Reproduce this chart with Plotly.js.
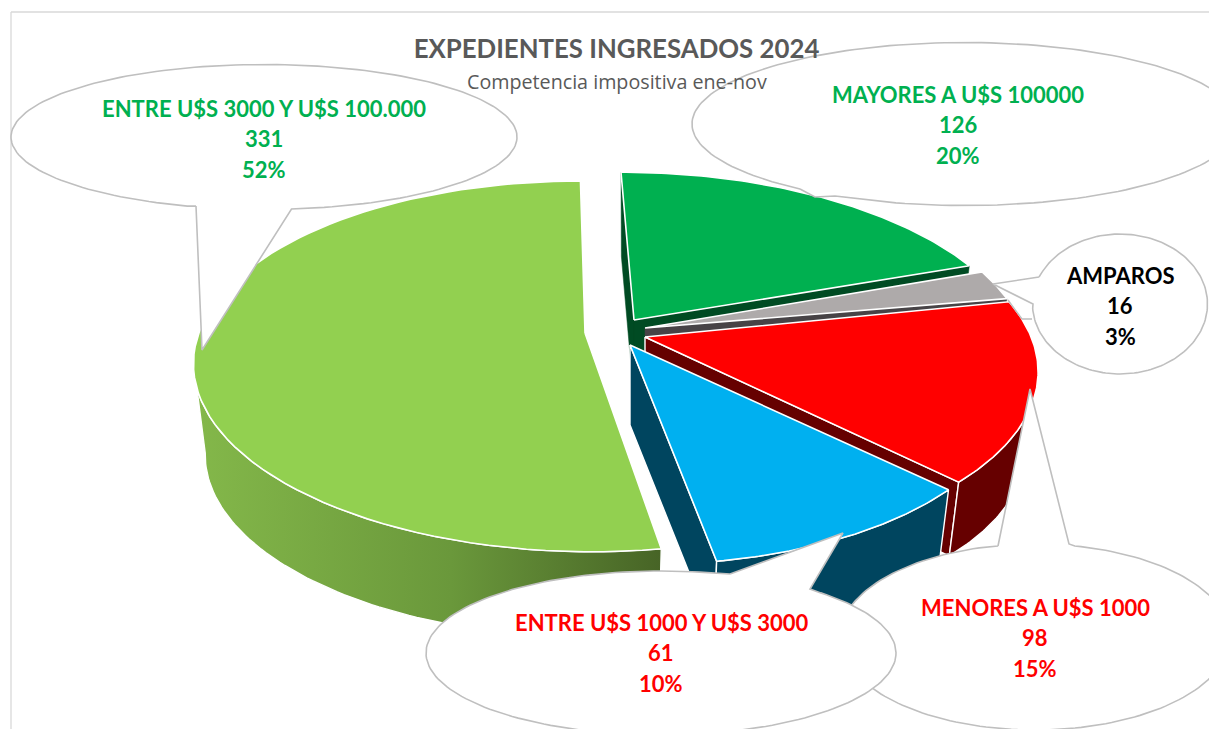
<!DOCTYPE html>
<html><head><meta charset="utf-8">
<script src="https://cdn.plot.ly/plotly-3.0.1.min.js"></script>
<style>html,body{margin:0;padding:0;background:#fff}#c{width:1209px;height:729px}</style>
</head><body><div id="c"></div>
<script>
// ---- chart data (clockwise from 12 o'clock) ----
var categories = ['MAYORES A U$S 100000','AMPAROS','MENORES A U$S 1000','ENTRE U$S 1000 Y U$S 3000','ENTRE U$S 3000 Y U$S 100.000'];
var values = [126,16,98,61,331];
var percents = ['20%','3%','15%','10%','52%'];
var titleText = 'EXPEDIENTES INGRESADOS 2024';
var subtitleText = 'Competencia impositiva ene-nov';
var topColors = ['#00B050','#AEAAAA','#FF0000','#00B0F0','#92D050'];
var sideColors = ['#004B23','#474346','#660000','#00455F','#7FB245'];
var labelColors = ['#00B050','#000000','#FF0000','#FF0000','#00B050'];

// ---- fake-3D view of the pie (pixel axes, perspective projection) ----
var apexX = [634,645,645,630,585], apexY = [320,328,337,345,333];
var skew = [0.088,0.03,0.05,0.09,0.03], sxs = [0.975,0.97,0.99,0.97,0.99], sys = [0.96,1,1,1.02,1], depth = [80,80,78,80,92];
var persp = [0.165,0.165,0.165,0.165,0.18];
var startShift = [0,-0.02,-0.045,-0.04,0], endShift = [-0.02,-0.01,-0.02,0,0];
var RX = 390, RY = 179.4, LOWER = 0.97;
var total = values.reduce(function(a,b){return a+b;},0);
var starts = [], c = 0;
values.forEach(function(v){starts.push(c/total*2*Math.PI); c += v;});
starts.push(2*Math.PI);
function rim(i,t){
  var f = 1/(1+persp[i]*Math.cos(t));
  var dy = -sys[i]*RY*Math.cos(t)*f, dx = sxs[i]*RX*Math.sin(t)*f + skew[i]*dy;
  return [dx,dy];
}
function topPt(i,t){var r=rim(i,t);return [apexX[i]+r[0],apexY[i]+r[1]];}
function lowPt(i,t){var r=rim(i,t);return [apexX[i]+r[0]*LOWER,apexY[i]+r[1]*LOWER+depth[i]];}
function arc(i,fn,a,b){var o=[],n=80;for(var k=0;k<=n;k++){o.push(fn(i,a+(b-a)*k/n));}return o;}
var traces = [];
function poly(pts,name,fillcolor,lineColor,width,extra){
  var tr = {type:'scatter',mode:'lines',x:pts.map(function(p){return p[0];}),y:pts.map(function(p){return p[1];}),
    fill:'toself',fillcolor:fillcolor,line:{color:lineColor,width:width},name:name,hoverinfo:'name',showlegend:false};
  if(extra){for(var k in extra){tr[k]=extra[k];}}
  traces.push(tr);
}
function slice(i,faces,drawSide){
  var a = starts[i]+startShift[i], b = starts[i+1]+endShift[i];
  var A=[apexX[i],apexY[i]], L=[apexX[i],apexY[i]+depth[i]];
  faces.forEach(function(which){
    var t = which==='start'?a:b;
    var ln = drawSide ? '#FFFFFF' : sideColors[i];
    poly([A,topPt(i,t),lowPt(i,t),L,A],categories[i],sideColors[i],ln,drawSide?1.4:0.5);
  });
  if(drawSide){
    var e = Math.min(b,1.45*Math.PI);               // only the front of the wall shows
    var side = arc(i,topPt,a,e).concat(arc(i,lowPt,a,e).reverse());
    side.push(side[0]);
    var extra = i===4 ? {fillgradient:{type:'horizontal',colorscale:[[0,'#84B84A'],[0.55,'#6A983B'],[1,'#476426']]}} : null;
    poly(side,categories[i],sideColors[i],'#FFFFFF',1.4,extra);
  }
  var tp = [A].concat(arc(i,topPt,a,b)); tp.push(A);
  poly(tp,categories[i],topColors[i],'#FFFFFF',1.6);
}
slice(4,[],true);
slice(0,['start','end'],false);
slice(1,['end'],false);
slice(2,['end'],true);
slice(3,['end'],true);

// ---- callout bubbles ----
function bubble(name,cx,cy,rx,ry,b1,tip,b2){
  var a1=Math.atan2((b1[1]-cy)/ry,(b1[0]-cx)/rx), a2=Math.atan2((b2[1]-cy)/ry,(b2[0]-cx)/rx);
  var pos=a1-a2; while(pos<0)pos+=2*Math.PI;
  var neg=2*Math.PI-pos, sweep = pos>neg?pos:-neg;
  var pts=[b1,tip,b2], n=180;
  for(var k=1;k<n;k++){var t=a2+sweep*k/n;pts.push([cx+rx*Math.cos(t),cy+ry*Math.sin(t)]);}
  pts.push(b1);
  poly(pts,name,'#FFFFFF','#BFBFBF',1.6);
}
bubble(categories[4],264,137,253,72.5,[196,206],[202,350],[291.5,209]);
bubble(categories[0],965,124,273,81.5,[800,189],[815,197],[835,196]);
bubble(categories[1],1120,304,87.5,70,[1039,277],[993,284],[1033,304]);
traces.push({type:'scatter',mode:'lines',x:[1032,1022,1008],y:[319,319,300],line:{color:'#BFBFBF',width:1.4},hoverinfo:'skip',showlegend:false});
bubble(categories[2],1035,637,195,93,[998,546],[1030,389],[1069,544]);
bubble(categories[3],661,653,235,82,[730,574],[843,533],[810,589]);

// ---- callout text ----
var labelX = [958,1120,1035,661,264], labelY = [94,275,607,622,108];
var annotations = [];
categories.forEach(function(cat,i){
  [cat,String(values[i]),percents[i]].forEach(function(t,j){
    annotations.push({xref:'x',yref:'y',x:labelX[i],y:labelY[i]+j*30.5,text:t,showarrow:false,xanchor:'center',yanchor:'middle',
      font:{family:'Lato, Carlito, sans-serif',size:22,weight:700,color:labelColors[i]}});
  });
});
annotations.push({xref:'x',yref:'y',x:616.5,y:81.5,text:subtitleText,showarrow:false,xanchor:'center',yanchor:'middle',
  font:{family:'Open Sans, sans-serif',size:19.7,color:'#595959'}});

var layout = {
  width:1209,height:729,margin:{l:0,r:0,t:0,b:0},paper_bgcolor:'#FFFFFF',plot_bgcolor:'#FFFFFF',showlegend:false,
  title:{text:titleText,xref:'paper',yref:'paper',x:616.5/1209,y:1-49/729,xanchor:'center',yanchor:'middle',
    font:{family:'Lato, Carlito, sans-serif',size:25.8,weight:700,color:'#595959'}},
  xaxis:{range:[0,1209],visible:false,fixedrange:true},
  yaxis:{range:[729,0],visible:false,fixedrange:true},
  annotations:annotations,
  shapes:[
    {type:'line',xref:'x',yref:'y',x0:11,x1:11,y0:12,y1:729,line:{color:'#D9D9D9',width:1.3},layer:'below'},
    {type:'line',xref:'x',yref:'y',x0:11,x1:1209,y0:12,y1:12,line:{color:'#D9D9D9',width:1.3},layer:'below'}
  ]
};
Plotly.newPlot('c',traces,layout,{staticPlot:true,displayModeBar:false});
</script></body></html>
